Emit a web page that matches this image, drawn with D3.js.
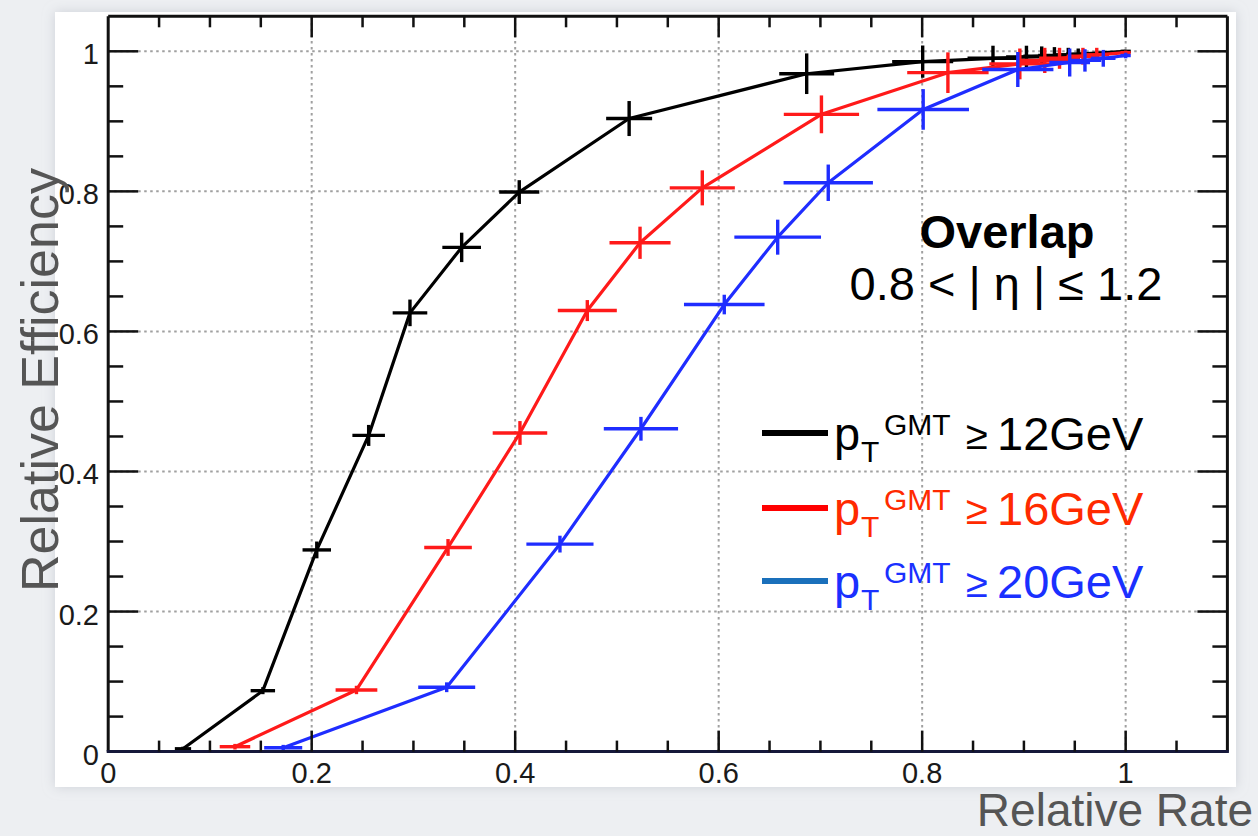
<!DOCTYPE html>
<html>
<head>
<meta charset="utf-8">
<script src="https://cdn.jsdelivr.net/npm/d3@7"></script>
<style>
  html, body { margin: 0; padding: 0; background: #edeff2; }
  svg { display: block; }
  text { font-family: Helvetica, Arial, "Liberation Sans", sans-serif; }
</style>
</head>
<body>
<svg id="chart" width="1258" height="836"></svg>
<script>
// Relative efficiency vs relative rate, overlap region, three GMT pT thresholds

// pT >= 12 GeV
const blackX  = [0.0735, 0.152, 0.205, 0.256, 0.2966, 0.3474, 0.404, 0.512, 0.6865, 0.8005, 0.8696, 0.9025, 0.9175, 0.930, 0.9436, 0.9534, 1.0];
const blackY  = [0.004, 0.087, 0.288, 0.4515, 0.6265, 0.720, 0.799, 0.904, 0.968, 0.9853, 0.990, 0.992, 0.993, 0.994, 0.995, 0.996, 1.0];
const blackEX = [0.008, 0.012, 0.014, 0.016, 0.017, 0.019, 0.0197, 0.0226, 0.027, 0.03, 0.025, 0.02, 0.018, 0.016, 0.014, 0.012, 0.005];
const blackEY = [0.003, 0.005, 0.012, 0.015, 0.019, 0.021, 0.017, 0.025, 0.029, 0.023, 0.018, 0.016, 0.014, 0.012, 0.01, 0.008, 0.002];

// pT >= 16 GeV
const redX  = [0.1246, 0.244, 0.334, 0.4047, 0.4709, 0.5227, 0.5839, 0.701, 0.8253, 0.896, 0.9205, 0.935, 0.958, 0.9716, 1.0];
const redY  = [0.007, 0.088, 0.2915, 0.455, 0.6298, 0.7266, 0.805, 0.91, 0.9695, 0.982, 0.987, 0.99, 0.993, 0.995, 0.998];
const redEX = [0.015, 0.0205, 0.0234, 0.0268, 0.029, 0.030, 0.032, 0.037, 0.04, 0.03, 0.025, 0.02, 0.016, 0.012, 0.005];
const redEY = [0.004, 0.006, 0.012, 0.017, 0.015, 0.023, 0.025, 0.027, 0.029, 0.022, 0.018, 0.015, 0.012, 0.01, 0.003];

// pT >= 20 GeV
const blueX  = [0.172, 0.3327, 0.444, 0.5236, 0.6055, 0.658, 0.7077, 0.801, 0.894, 0.945, 0.96, 0.978, 1.0];
const blueY  = [0.0056, 0.0919, 0.2963, 0.461, 0.6384, 0.7346, 0.8123, 0.917, 0.974, 0.984, 0.987, 0.99, 0.994];
const blueEX = [0.0187, 0.028, 0.033, 0.0365, 0.0396, 0.0426, 0.0439, 0.045, 0.035, 0.02, 0.016, 0.012, 0.005];
const blueEY = [0.004, 0.007, 0.012, 0.017, 0.014, 0.025, 0.026, 0.029, 0.025, 0.02, 0.016, 0.012, 0.004];

const xTickLabels = ["0", "0.2", "0.4", "0.6", "0.8", "1"];
const yTickLabels = ["0", "0.2", "0.4", "0.6", "0.8", "1"];
const xMajor = [0, 0.2, 0.4, 0.6, 0.8, 1.0];
const yMajor = [0, 0.2, 0.4, 0.6, 0.8, 1.0];

const legendLabels = ["12GeV", "16GeV", "20GeV"];

const series = [
  { x: blackX, y: blackY, ex: blackEX, ey: blackEY, color: "#000000", legendLine: "#000000", legendText: "#000000", label: legendLabels[0] },
  { x: redX,   y: redY,   ex: redEX,   ey: redEY,   color: "#ff1a1a", legendLine: "#ff0000", legendText: "#ff2a00", label: legendLabels[1] },
  { x: blueX,  y: blueY,  ex: blueEX,  ey: blueEY,  color: "#1f2dff", legendLine: "#1a70bb", legendText: "#1a30ff", label: legendLabels[2] }
];

const svg = d3.select("#chart");

const x = d3.scaleLinear().domain([0, 1.1]).range([108.2, 1227.4]);
const y = d3.scaleLinear().domain([0, 1.05]).range([751.6, 16.3]);

// backdrop and white panel
const defs = svg.append("defs");
const shadow = defs.append("filter").attr("id", "panelShadow").attr("x", "-5%").attr("y", "-5%").attr("width", "110%").attr("height", "110%");
shadow.append("feDropShadow").attr("dx", 0).attr("dy", 0).attr("stdDeviation", 6).attr("flood-color", "#b8bcc4").attr("flood-opacity", 0.6);

svg.append("rect").attr("width", 1258).attr("height", 836).attr("fill", "#edeff2");
svg.append("rect").attr("x", 55).attr("y", 12).attr("width", 1181).attr("height", 775)
  .attr("fill", "#ffffff").attr("filter", "url(#panelShadow)");

// grid
const grid = svg.append("g").attr("stroke", "#a0a0a0").attr("stroke-width", 2).attr("stroke-dasharray", "2.5,3.5");
grid.selectAll("line.gx").data(xMajor.slice(1)).join("line")
  .attr("x1", d => x(d)).attr("x2", d => x(d)).attr("y1", y(0)).attr("y2", y(1.05));
grid.selectAll("line.gy").data(yMajor.slice(1)).join("line")
  .attr("y1", d => y(d)).attr("y2", d => y(d)).attr("x1", x(0)).attr("x2", x(1.1));

// series
const line = d3.line().x(d => x(d[0])).y(d => y(d[1]));
series.forEach(s => {
  const pts = s.x.map((v, i) => [v, s.y[i], s.ex[i], s.ey[i]]);
  const g = svg.append("g");
  g.append("path").datum(pts).attr("d", line)
    .attr("fill", "none").attr("stroke", s.color).attr("stroke-width", 3.2).attr("stroke-linejoin", "round");
  g.selectAll("line.h").data(pts).join("line")
    .attr("x1", d => x(d[0] - d[2])).attr("x2", d => x(d[0] + d[2]))
    .attr("y1", d => y(d[1])).attr("y2", d => y(d[1]))
    .attr("stroke", s.color).attr("stroke-width", 3.4);
  g.selectAll("line.v").data(pts).join("line")
    .attr("x1", d => x(d[0])).attr("x2", d => x(d[0]))
    .attr("y1", d => y(d[1] - d[3])).attr("y2", d => y(d[1] + d[3]))
    .attr("stroke", s.color).attr("stroke-width", 3.4);
});

// frame
const frame = svg.append("g").attr("stroke-width", 3).attr("fill", "none");
frame.append("line").attr("x1", x(0)).attr("x2", x(1.1)).attr("y1", y(1.05)).attr("y2", y(1.05)).attr("stroke", "#111");
frame.append("line").attr("x1", x(0)).attr("x2", x(0)).attr("y1", y(0)).attr("y2", y(1.05)).attr("stroke", "#111");
frame.append("line").attr("x1", x(1.1)).attr("x2", x(1.1)).attr("y1", y(0)).attr("y2", y(1.05)).attr("stroke", "#111");
frame.append("line").attr("x1", x(0) - 1.5).attr("x2", x(1.1) + 1.5).attr("y1", y(0)).attr("y2", y(0)).attr("stroke", "#15183a");

// ticks on all four sides
const xTicks = d3.range(0, 23).map(i => +(i * 0.05).toFixed(2)).filter(v => v > 0 && v < 1.1);
const yTicks = d3.range(0, 22).map(i => +(i * 0.05).toFixed(2)).filter(v => v > 0 && v < 1.05);
const isMajor = v => Math.abs(v * 5 - Math.round(v * 5)) < 1e-6;
const ticks = svg.append("g").attr("stroke", "#111").attr("stroke-width", 2.5);
ticks.selectAll("line.xb").data(xTicks).join("line")
  .attr("x1", d => x(d)).attr("x2", d => x(d))
  .attr("y1", y(0)).attr("y2", d => y(0) - (isMajor(d) ? 21 : 11));
ticks.selectAll("line.xt").data(xTicks).join("line")
  .attr("x1", d => x(d)).attr("x2", d => x(d))
  .attr("y1", y(1.05)).attr("y2", d => y(1.05) + (isMajor(d) ? 21 : 11));
ticks.selectAll("line.yl").data(yTicks).join("line")
  .attr("y1", d => y(d)).attr("y2", d => y(d))
  .attr("x1", x(0)).attr("x2", d => x(0) + (isMajor(d) ? 30 : 15));
ticks.selectAll("line.yr").data(yTicks).join("line")
  .attr("y1", d => y(d)).attr("y2", d => y(d))
  .attr("x1", x(1.1)).attr("x2", d => x(1.1) - (isMajor(d) ? 30 : 15));

// tick labels
svg.append("g").selectAll("text").data(xMajor).join("text")
  .attr("x", d => x(d)).attr("y", 783)
  .attr("text-anchor", "middle").attr("font-size", 29).attr("fill", "#1a1a1a")
  .text((d, i) => xTickLabels[i]);
svg.append("g").selectAll("text").data(yMajor).join("text")
  .attr("x", 99).attr("y", d => y(d) + 13)
  .attr("text-anchor", "end").attr("font-size", 29).attr("fill", "#1a1a1a")
  .text((d, i) => yTickLabels[i]);

// axis titles
svg.append("text").attr("x", 1253).attr("y", 826).attr("text-anchor", "end")
  .attr("font-size", 46).attr("fill", "#555").text("Relative Rate");
svg.append("text").attr("transform", "translate(58,380) rotate(-90)").attr("text-anchor", "middle")
  .attr("font-size", 52).attr("fill", "#555").text("Relative Efficiency");

// region label
svg.append("text").attr("x", 1007).attr("y", 248).attr("text-anchor", "middle")
  .attr("font-size", 47).attr("font-weight", "bold").attr("fill", "#000").text("Overlap");
svg.append("text").attr("x", 1006).attr("y", 300).attr("text-anchor", "middle")
  .attr("font-size", 47).attr("fill", "#000").text("0.8 < | η | ≤ 1.2");

// legend
const rowBase = [450, 525, 598];
const leg = svg.append("g");
series.forEach((s, i) => {
  const b = rowBase[i];
  leg.append("line").attr("x1", 762).attr("x2", 828).attr("y1", b - 17).attr("y2", b - 17)
    .attr("stroke", s.legendLine).attr("stroke-width", 6);
  const t = leg.append("text").attr("fill", s.legendText).attr("font-size", 47);
  t.append("tspan").attr("x", 834).attr("y", b).text("p");
  t.append("tspan").attr("x", 861).attr("y", b + 12).attr("font-size", 30).text("T");
  t.append("tspan").attr("x", 884).attr("y", b - 15).attr("font-size", 30).text("GMT");
  t.append("tspan").attr("x", 966).attr("y", b - 1).attr("font-size", 40).text("≥");
  t.append("tspan").attr("x", 997).attr("y", b).text(s.label);
});
</script>
</body>
</html>
